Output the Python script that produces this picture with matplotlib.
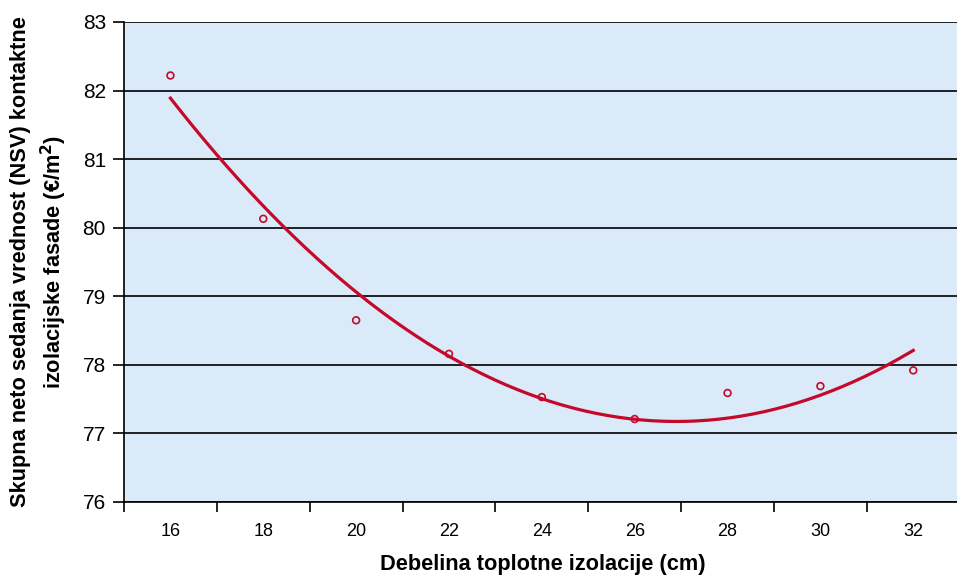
import matplotlib.pyplot as plt
import numpy as np

plt.rcParams["font.family"] = ["Liberation Sans", "DejaVu Sans"]

# measured points
thickness = [16, 18, 20, 22, 24, 26, 28, 30, 32]
npv = [82.22, 80.13, 78.65, 78.16, 77.53, 77.21, 77.59, 77.69, 77.92]

y_ticks = [76, 77, 78, 79, 80, 81, 82, 83]
x_labels = ["16", "18", "20", "22", "24", "26", "28", "30", "32"]

red = "#C4092B"

fig = plt.figure(figsize=(9.57, 5.79), dpi=100)
ax = fig.add_axes([124 / 957, 77 / 579, 838 / 957, 480 / 579])
ax.set_facecolor("#DAEAF8")

# quadratic trend line (Excel-style polynomial fit)
coef = np.polyfit(thickness, npv, 2)
xs = np.linspace(16, 32, 200)
ax.plot(xs, np.polyval(coef, xs), color=red, lw=2.3, zorder=3)

ax.scatter(thickness, npv, s=24, facecolors="none", edgecolors=red,
           linewidths=1.2, zorder=4)

ax.set_xlim(15, 33.05)
ax.set_ylim(76, 83)
ax.set_yticks(y_ticks)
ax.yaxis.grid(True, color="black", lw=1.2)
ax.set_axisbelow(True)

# ticks between categories, labels centred on the points
ax.set_xticks(np.arange(15, 34, 2))
ax.set_xticklabels([])
ax.set_xticks(thickness, minor=True)
ax.set_xticklabels(x_labels, minor=True)
ax.tick_params(axis="x", which="major", length=7, width=1.2, direction="out")
ax.tick_params(axis="x", which="minor", length=0, pad=15, labelsize=13)
ax.tick_params(axis="y", length=8, width=1.2, pad=5, labelsize=15)

for s in ["top", "right"]:
    ax.spines[s].set_visible(False)
for s in ["left", "bottom"]:
    ax.spines[s].set_linewidth(1.2)

ax.set_xlabel("Debelina toplotne izolacije (cm)", fontsize=15.7,
              fontweight="bold", labelpad=10)
ax.set_ylabel("Skupna neto sedanja vrednost (NSV) kontaktne\n"
              "izolacijske fasade (€/m$^\\mathbf{2}$)",
              fontsize=15.7, fontweight="bold", labelpad=10, linespacing=1.35)

fig.savefig("out.png", dpi=100)
